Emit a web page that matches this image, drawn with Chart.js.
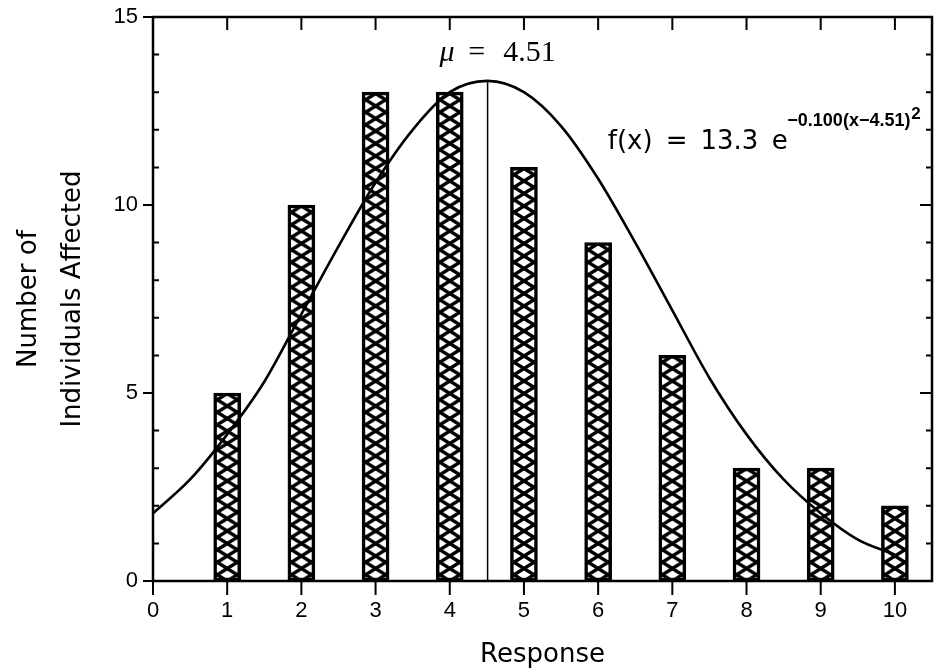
<!DOCTYPE html>
<html lang="en">
<head>
<meta charset="UTF-8">
<title>Number of Individuals Affected by Response</title>
<script src="https://cdn.jsdelivr.net/npm/chart.js@4.4.0/dist/chart.umd.min.js"></script>
<style>
  body { margin: 0; background: #fff; }
  #wrap { width: 936px; height: 672px; }
</style>
</head>
<body>
<div id="wrap"><canvas id="chart"></canvas></div>
<script>
// observed counts per response level
const responses = [1, 2, 3, 4, 5, 6, 7, 8, 9, 10];
const affected = [5, 10, 13, 13, 11, 9, 6, 3, 3, 2];

// fitted curve
const fitX = [0, 0.5, 1, 1.5, 2, 2.5, 3, 3.5, 4, 4.51, 5, 5.5, 6, 6.5, 7, 7.5, 8, 8.5, 9, 9.5, 10];
const fitY = [1.8, 2.7, 3.9, 5.3, 7.1, 8.9, 10.6, 12.0, 13.0, 13.3, 13.0, 12.1, 10.7, 9.0, 7.2, 5.4, 3.9, 2.7, 1.8, 1.1, 0.7];

// mean marker
const meanX = [4.51, 4.51];
const meanY = [0, 13.3];

// axis ticks
const xTicks = [0, 1, 2, 3, 4, 5, 6, 7, 8, 9, 10];
const yMajor = [0, 5, 10, 15];
const yMinor = [1, 2, 3, 4, 6, 7, 8, 9, 11, 12, 13, 14];

const SANS = '"Liberation Sans", Arial, sans-serif';
const WIDE = '"DejaVu Sans", Verdana, sans-serif';
const SERIF = '"Liberation Serif", "Times New Roman", serif';

// cross-hatch tile used inside the bars
const tile = document.createElement('canvas');
tile.width = 20;
tile.height = 25;
(function () {
  const g = tile.getContext('2d');
  g.fillStyle = '#fff';
  g.fillRect(0, 0, 20, 25);
  g.strokeStyle = '#000';
  g.lineWidth = 3.4;
  g.beginPath();
  g.moveTo(0, -6.25); g.lineTo(20, 6.25); g.lineTo(0, 18.75); g.lineTo(20, 31.25);
  g.moveTo(20, -6.25); g.lineTo(0, 6.25); g.lineTo(20, 18.75); g.lineTo(0, 31.25);
  g.stroke();
})();

function hatch(ctx) {
  const chart = ctx.chart;
  if (ctx.type !== 'data' || !chart.scales.x) return '#fff';
  const px = chart.scales.x.getPixelForValue(responses[ctx.dataIndex]);
  const py = chart.scales.y.getPixelForValue(0);
  const p = chart.ctx.createPattern(tile, 'repeat');
  p.setTransform(new DOMMatrix([1, 0, 0, 1, px - 10, py]));
  return p;
}

// box frame with the tick marks of the original plot
const framePlugin = {
  id: 'frame',
  afterDatasetsDraw(chart) {
    const { ctx, chartArea: a, scales: { x, y } } = chart;
    ctx.save();
    ctx.strokeStyle = '#000';
    ctx.lineWidth = 2.5;
    ctx.strokeRect(a.left, a.top, a.right - a.left, a.bottom - a.top);
    ctx.lineWidth = 2;
    ctx.beginPath();
    xTicks.forEach(v => {
      const px = x.getPixelForValue(v);
      ctx.moveTo(px, a.bottom); ctx.lineTo(px, a.bottom + 14);
      ctx.moveTo(px, a.top); ctx.lineTo(px, a.top + 13);
    });
    yMajor.forEach(v => {
      const py = y.getPixelForValue(v);
      ctx.moveTo(a.left - 10, py); ctx.lineTo(a.left, py);
      ctx.moveTo(a.right - 12, py); ctx.lineTo(a.right, py);
    });
    yMinor.forEach(v => {
      const py = y.getPixelForValue(v);
      ctx.moveTo(a.left, py); ctx.lineTo(a.left + 6, py);
      ctx.moveTo(a.right - 6, py); ctx.lineTo(a.right, py);
    });
    ctx.stroke();
    ctx.restore();
  }
};

// text annotations, placed in data units
const notes = [
  { text: 'μ', x: 3.86, y: 13.83, font: 'italic 30px ' + SERIF },
  { text: '=', x: 4.25, y: 13.83, font: '30px ' + SERIF },
  { text: '4.51', x: 4.72, y: 13.83, font: '30px ' + SERIF },
  { text: 'f(x)', x: 6.13, y: 11.49, font: '26px ' + WIDE },
  { text: '=', x: 6.91, y: 11.49, font: '26px ' + WIDE },
  { text: '13.3', x: 7.38, y: 11.49, font: '26px ' + WIDE },
  { text: 'e', x: 8.34, y: 11.49, font: '26px ' + WIDE },
  { text: '−0.100(x−4.51)', x: 8.55, y: 12.1, font: 'bold 18px ' + SANS },
  { text: '2', x: 10.22, y: 12.3, font: 'bold 17px ' + SANS }
];

const notesPlugin = {
  id: 'notes',
  afterDraw(chart) {
    const { ctx, scales: { x, y } } = chart;
    ctx.save();
    ctx.fillStyle = '#000';
    ctx.textAlign = 'left';
    ctx.textBaseline = 'alphabetic';
    notes.forEach(n => {
      ctx.font = n.font;
      ctx.fillText(n.text, x.getPixelForValue(n.x), y.getPixelForValue(n.y));
    });
    ctx.restore();
  }
};

new Chart(document.getElementById('chart'), {
  type: 'bar',
  data: {
    datasets: [
      {
        type: 'line',
        data: fitX.map((v, i) => ({ x: v, y: fitY[i] })),
        borderColor: '#000',
        borderWidth: 2.6,
        pointRadius: 0,
        cubicInterpolationMode: 'monotone',
        fill: false,
        order: 1
      },
      {
        type: 'line',
        data: meanX.map((v, i) => ({ x: v, y: meanY[i] })),
        borderColor: '#000',
        borderWidth: 1.5,
        pointRadius: 0,
        fill: false,
        order: 2
      },
      {
        type: 'bar',
        data: responses.map((v, i) => ({ x: v, y: affected[i] })),
        backgroundColor: hatch,
        borderColor: '#000',
        borderWidth: 3.5,
        borderSkipped: false,
        barThickness: 27,
        order: 3
      }
    ]
  },
  options: {
    responsive: true,
    maintainAspectRatio: false,
    animation: false,
    layout: { padding: { top: 17, right: 4, left: 0, bottom: 0 } },
    plugins: {
      legend: { display: false },
      tooltip: { enabled: false }
    },
    scales: {
      x: {
        type: 'linear',
        min: 0,
        max: 10.5,
        offset: false,
        grid: { display: false, drawTicks: false },
        border: { display: false },
        ticks: {
          stepSize: 1,
          includeBounds: false,
          autoSkip: false,
          maxRotation: 0,
          padding: 17,
          color: '#000',
          font: { family: SANS, size: 22 }
        },
        title: {
          display: true,
          text: 'Response',
          color: '#000',
          font: { family: WIDE, size: 26 },
          padding: { top: 0, bottom: 1 }
        },
        afterFit(s) {
          s.height = 91;
          s.paddingLeft = 0;
          s.paddingRight = 0;
        }
      },
      y: {
        min: 0,
        max: 15,
        grid: { display: false, drawTicks: false },
        border: { display: false },
        ticks: {
          stepSize: 5,
          padding: 15,
          color: '#000',
          font: { family: SANS, size: 22 }
        },
        title: {
          display: true,
          text: ['Number of', 'Individuals Affected'],
          color: '#000',
          font: { family: WIDE, size: 26, lineHeight: 1.69 },
          padding: { top: 7, bottom: 0 }
        },
        afterFit(s) {
          s.width = 153;
          s.paddingTop = 0;
          s.paddingBottom = 0;
        }
      }
    }
  },
  plugins: [framePlugin, notesPlugin]
});
</script>
</body>
</html>
